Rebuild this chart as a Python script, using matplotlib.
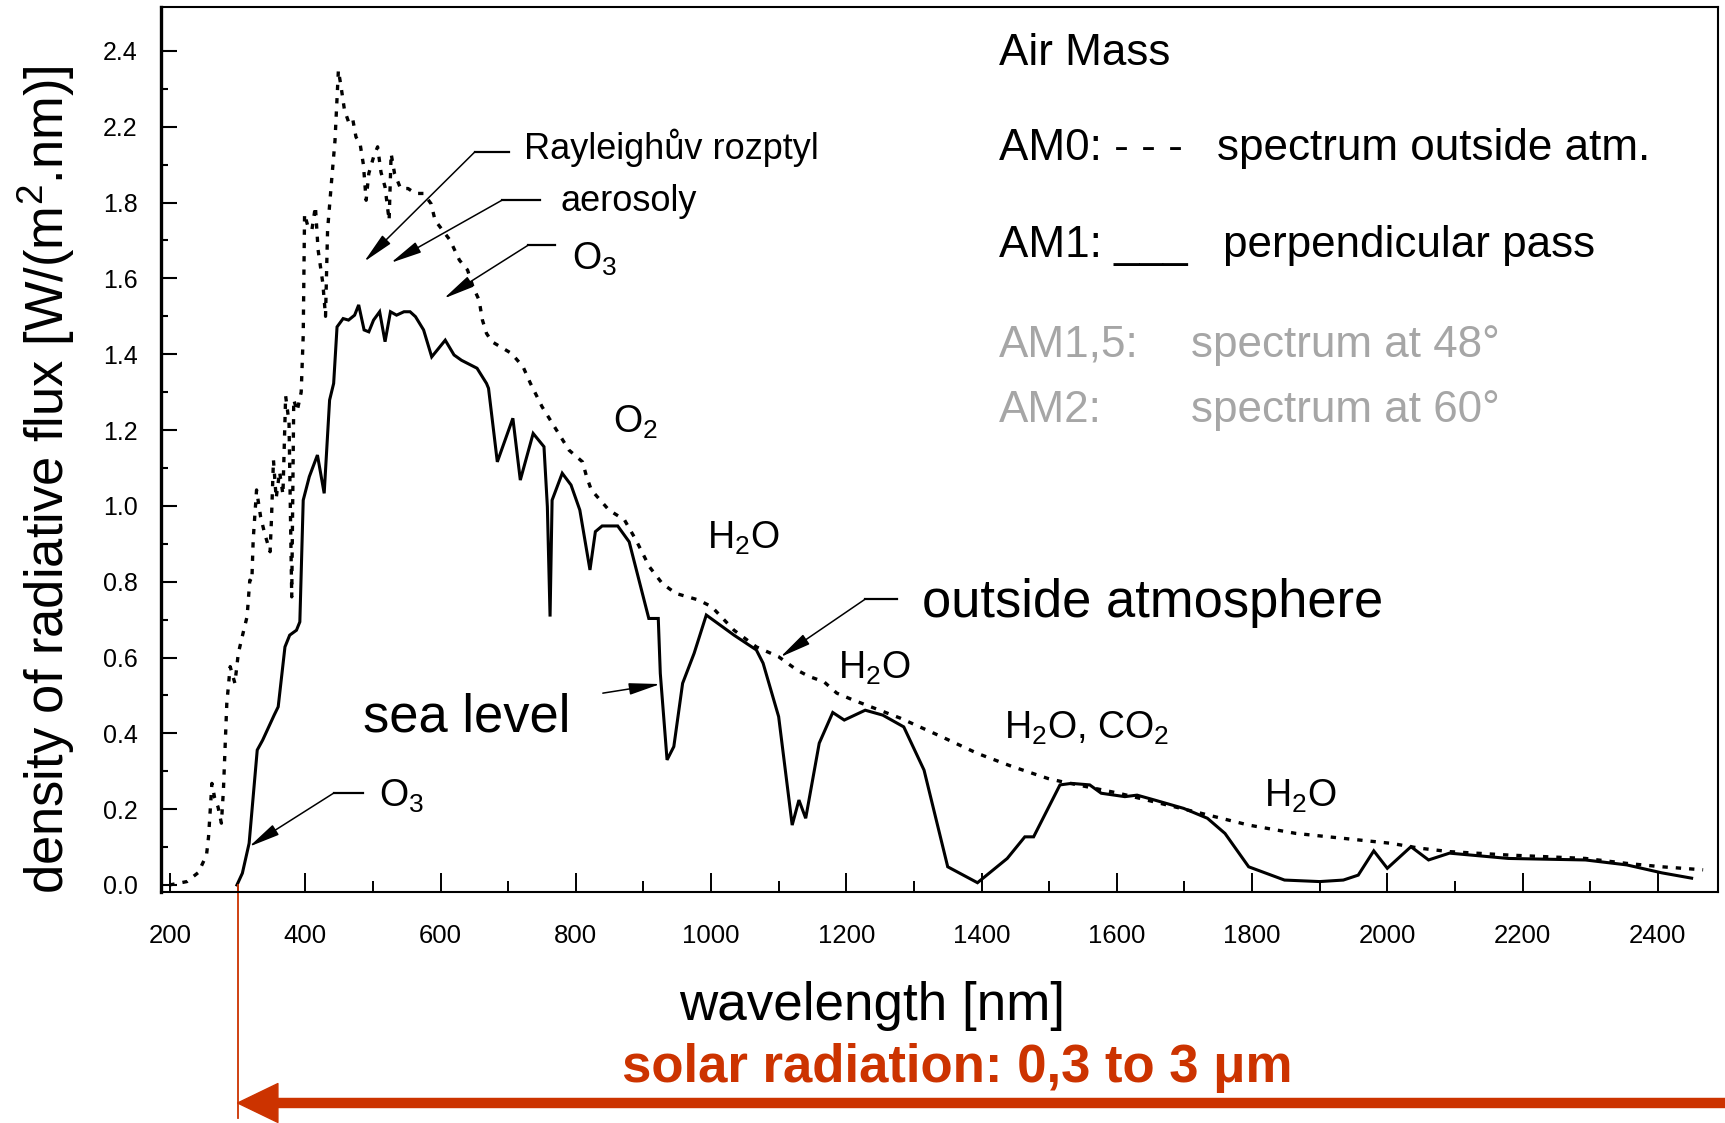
import matplotlib
matplotlib.use("Agg")
import matplotlib.pyplot as plt

plt.rcParams['font.family'] = ['Liberation Sans', 'DejaVu Sans']
plt.rcParams['mathtext.default'] = 'regular'

RED = '#cc3300'
GREY = '#a6a6a6'

# AM0 - spectrum outside the atmosphere (dotted)
am0_nm = [199, 225, 242, 254, 257, 262, 266, 271, 276, 279, 284, 289, 296, 301,
          308, 314, 318, 321, 323, 328, 334, 340, 348, 350, 353, 357, 362, 367,
          371, 376, 380, 383, 388, 394, 397, 399, 405, 410, 415, 419, 426, 430,
          433, 439, 444, 449, 453, 458, 464, 470, 475, 481, 486, 490, 494, 501,
          507, 512, 518, 524, 527, 532, 541, 552, 563, 575, 586, 592, 603, 614,
          628, 640, 648, 657, 662, 668, 676, 705, 722, 733, 750, 768, 790, 810,
          816, 823, 849, 872, 889, 909, 928, 948, 981, 1001, 1034, 1067, 1100,
          1127, 1145, 1167, 1186, 1210, 1280, 1341, 1394, 1446, 1498, 1520, 1603,
          1725, 1795, 1865, 1935, 2005, 2048, 2092, 2179, 2293, 2354, 2406, 2467]
am0_flux = [0.0, 0.009, 0.033, 0.079, 0.127, 0.268, 0.23, 0.206, 0.163, 0.25,
            0.479, 0.576, 0.532, 0.611, 0.664, 0.708, 0.804, 0.80, 0.91, 1.042,
            0.971, 0.927, 0.879, 0.963, 1.121, 1.02, 1.09, 1.03, 1.29, 1.22,
            0.76, 1.28, 1.25, 1.30, 1.45, 1.77, 1.73, 1.73, 1.79, 1.675, 1.587,
            1.50, 1.727, 1.859, 1.964, 2.149, 2.105, 2.044, 2.013, 2.022, 1.973,
            1.956, 1.90, 1.806, 1.877, 1.92, 1.947, 1.88, 1.841, 1.753, 1.929,
            1.877, 1.837, 1.837, 1.824, 1.824, 1.797, 1.753, 1.727, 1.701, 1.648,
            1.622, 1.578, 1.543, 1.49, 1.455, 1.433, 1.402, 1.367, 1.323, 1.262,
            1.21, 1.147, 1.116, 1.077, 1.042, 0.989, 0.963, 0.91, 0.839, 0.795,
            0.769, 0.752, 0.734, 0.672, 0.628, 0.602, 0.567, 0.55, 0.536, 0.506,
            0.488, 0.44, 0.391, 0.347, 0.312, 0.281, 0.272, 0.242, 0.189, 0.158,
            0.136, 0.123, 0.11, 0.097, 0.088, 0.079, 0.07, 0.057, 0.048, 0.04]

# AM1 - sea level, perpendicular pass (solid)
am1_nm = [299, 307, 317, 329, 337, 354, 360, 370, 377, 387, 392, 397, 406, 418,
          428, 436, 442, 447, 456, 464, 473, 479, 487, 494, 501, 510, 518, 526,
          535, 546, 555, 563, 575, 587, 597, 607, 620, 631, 654, 668, 671, 684,
          707, 718, 737, 753, 758, 762, 765, 780, 793, 806, 821, 829, 839, 862,
          879, 908, 922, 925, 935, 945, 958, 975, 993, 1034, 1067, 1077, 1100,
          1120, 1130, 1140, 1160, 1180, 1197, 1228, 1254, 1285, 1315, 1350, 1394,
          1438, 1464, 1477, 1516, 1533, 1560, 1577, 1612, 1630, 1656, 1699, 1734,
          1760, 1795, 1848, 1900, 1935, 1957, 1980, 2000, 2035, 2061, 2092, 2179,
          2293, 2354, 2406, 2450]
am1_flux = [0.0, 0.031, 0.11, 0.356, 0.382, 0.448, 0.47, 0.628, 0.659, 0.672,
            0.694, 1.015, 1.077, 1.134, 1.033, 1.279, 1.323, 1.472, 1.494, 1.49,
            1.503, 1.53, 1.464, 1.459, 1.49, 1.512, 1.433, 1.512, 1.503, 1.512,
            1.512, 1.499, 1.464, 1.393, 1.415, 1.437, 1.398, 1.384, 1.363, 1.323,
            1.31, 1.116, 1.231, 1.068, 1.191, 1.156, 0.998, 0.708, 1.015, 1.086,
            1.055, 0.989, 0.831, 0.932, 0.947, 0.947, 0.905, 0.703, 0.703, 0.558,
            0.33, 0.365, 0.532, 0.611, 0.712, 0.659, 0.62, 0.585, 0.444, 0.158,
            0.224, 0.176, 0.374, 0.455, 0.435, 0.461, 0.448, 0.417, 0.303, 0.048,
            0.006, 0.07, 0.127, 0.127, 0.264, 0.268, 0.264, 0.242, 0.233, 0.237,
            0.224, 0.202, 0.176, 0.136, 0.048, 0.013, 0.009, 0.013, 0.026, 0.09,
            0.044, 0.101, 0.066, 0.084, 0.07, 0.066, 0.053, 0.032, 0.018]

# y scale as printed on the old plate (there is no 2.0 label)
ytick_pos = [0.0, 0.2, 0.4, 0.6, 0.8, 1.0, 1.2, 1.4, 1.6, 1.8, 2.0, 2.2]
ytick_lab = ['0.0', '0.2', '0.4', '0.6', '0.8', '1.0', '1.2', '1.4', '1.6', '1.8', '2.2', '2.4']
ytick_minor = [0.1, 0.3, 0.5, 0.7, 0.9, 1.1, 1.3, 1.5, 1.7, 1.9, 2.1]
xtick_major = list(range(200, 2401, 200))
xtick_minor = list(range(300, 2400, 200))

solar_from = 300    # nm
solar_to = 3000     # nm

W, H = 1725, 1123
fig = plt.figure(figsize=(W / 100, H / 100), dpi=100)
ax = fig.add_axes([161 / W, 1 - 891.7 / H, (1718 - 161) / W, (891.7 - 7.3) / H])

ax.plot(am0_nm, am0_flux, color='black', lw=2.4, ls=(0, (1.6, 2.4)))
ax.plot(am1_nm, am1_flux, color='black', lw=2.2, solid_joinstyle='miter')

ax.set_xlim(186.7, 2489)
ax.set_ylim(-0.0177, 2.315)

ax.set_xticks(xtick_major, labels=[str(v) for v in xtick_major], fontsize=18.5)
ax.set_xticks(xtick_minor, minor=True)
ax.set_yticks(ytick_pos, labels=ytick_lab, fontsize=18)
ax.set_yticks(ytick_minor, minor=True)
ax.tick_params(axis='x', which='major', direction='in', length=14, width=1.4, pad=23)
ax.tick_params(axis='x', which='minor', direction='in', length=8, width=1.4)
ax.tick_params(axis='y', which='major', direction='in', length=11.5, width=1.5, pad=17)
ax.tick_params(axis='y', which='minor', direction='in', length=5, width=1.5)

ax.spines['left'].set_linewidth(2.4)
for side in ['top', 'right', 'bottom']:
    ax.spines[side].set_linewidth(1.5)

# legend block
ax.text(1426, 2.162, 'Air Mass', fontsize=31.7, va='baseline')
ax.text(1426, 1.912, 'AM0: - - -', fontsize=31.7, va='baseline')
ax.text(1748, 1.912, 'spectrum outside atm.', fontsize=31.7, va='baseline')
ax.text(1426, 1.657, 'AM1: ___', fontsize=31.7, va='baseline')
ax.text(1757, 1.657, 'perpendicular pass', fontsize=31.7, va='baseline')
ax.text(1426, 1.393, 'AM1,5:', fontsize=31.7, va='baseline', color=GREY)
ax.text(1710, 1.393, 'spectrum at 48°', fontsize=31.7, va='baseline', color=GREY)
ax.text(1426, 1.222, 'AM2:', fontsize=31.7, va='baseline', color=GREY)
ax.text(1710, 1.222, 'spectrum at 60°', fontsize=31.7, va='baseline', color=GREY)

# absorption bands
for x, y, s in [(795, 1.624, 'O$_3$'), (855, 1.192, 'O$_2$'), (994, 0.888, 'H$_2$O'),
                (1188, 0.545, 'H$_2$O'), (1433, 0.387, 'H$_2$O, CO$_2$'),
                (1817, 0.2065, 'H$_2$O'), (509, 0.2065, 'O$_3$')]:
    ax.text(x, y, s, fontsize=27, va='baseline')

ax.text(724, 1.916, 'Rayleighův rozptyl', fontsize=26, va='baseline')
ax.text(778, 1.778, 'aerosoly', fontsize=26, va='baseline')
ax.text(485, 0.404, 'sea level', fontsize=37.8, va='baseline')
ax.text(1312, 0.7075, 'outside atmosphere', fontsize=37.8, va='baseline')

# leader lines: (tip, elbow, end of horizontal piece)
head = dict(arrowstyle='-|>,head_length=1.6,head_width=0.3', color='black',
            lw=1.1, mutation_scale=12, shrinkA=0, shrinkB=0)
for tip, elbow, end_x in [((487, 1.644), (651, 1.934), 701.5),
                          ((526.5, 1.641), (690.7, 1.806), 747),
                          ((605, 1.547), (730, 1.688), 769.5),
                          ((317, 0.101), (442.6, 0.243), 485.5),
                          ((1102.4, 0.601), (1228, 0.754), 1275.4)]:
    ax.annotate('', xy=tip, xytext=elbow, arrowprops=head)
    ax.plot([elbow[0], end_x], [elbow[1], elbow[1]], color='black', lw=1.6)
ax.annotate('', xy=(925, 0.530), xytext=(840, 0.506), arrowprops=head)

# solar radiation band 0.3 - 3 um
ax.plot([solar_from, solar_from], [0.0, -0.614], color=RED, lw=1.3, clip_on=False)
ax.annotate('', xy=(solar_from, -0.575), xytext=(solar_to, -0.575),
            annotation_clip=False,
            arrowprops=dict(facecolor=RED, edgecolor=RED, width=6.5,
                            headwidth=28, headlength=29, shrink=0))

fig.text(871.7 / W, 1 - 1020 / H, 'wavelength [nm]', fontsize=38.2,
         ha='center', va='baseline')
fig.text(957 / W, 1 - 1081.7 / H, 'solar radiation: 0,3 to 3 μm', fontsize=38,
         fontweight='bold', color=RED, ha='center', va='baseline')
fig.text(46 / W, 1 - 479.5 / H, 'density of radiative flux [W/(m$^2$.nm)]',
         fontsize=37.8, rotation=90, ha='center', va='center')

fig.savefig('out.png', dpi=100)
